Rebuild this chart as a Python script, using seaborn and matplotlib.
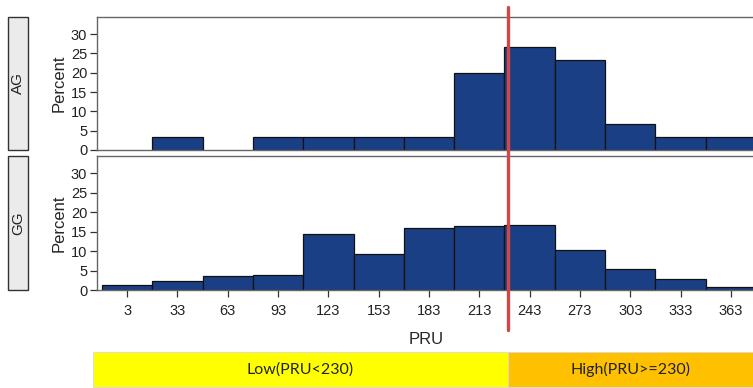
import pandas as pd
import matplotlib
matplotlib.use('Agg')
import matplotlib.pyplot as plt
import seaborn as sns
from matplotlib.patches import Rectangle
from matplotlib.lines import Line2D
from matplotlib.transforms import blended_transform_factory

# dados (percentual por classe de PRU)
pru_centros = [3, 33, 63, 93, 123, 153, 183, 213, 243, 273, 303, 333, 363]
pct_ag = [0, 3.33, 0, 3.33, 3.33, 3.33, 3.33, 20.0, 26.67, 23.33, 6.67, 3.33, 3.33]
pct_gg = [1.2, 2.4, 3.5, 3.75, 14.3, 9.3, 15.9, 16.5, 16.8, 10.2, 5.45, 2.7, 0.85]
grupos = ['AG', 'GG']
corte = 230
rotulos_faixa = ['Low(PRU<230)', 'High(PRU>=230)']

sns.set_theme(style='white')
plt.rcParams['font.family'] = ['Liberation Sans', 'DejaVu Sans']

fig = plt.figure(figsize=(7.53, 3.88), dpi=100)
ax1 = fig.add_axes([97/753, 1-150/388, 659/753, 133/388])
ax2 = fig.add_axes([97/753, 1-290/388, 659/753, 134/388])

cor_barra = '#1b3f84'

for ax, pct, nome in zip([ax1, ax2], [pct_ag, pct_gg], grupos):
    df = pd.DataFrame({'PRU': pru_centros, 'pct': pct})
    sns.histplot(data=df, x='PRU', weights='pct', binwidth=30, binrange=(-12, 378),
                 ax=ax, color=cor_barra, edgecolor='#111111', linewidth=0.9, alpha=1)
    # barras de altura zero não aparecem no original
    for p in ax.patches:
        if p.get_height() == 0:
            p.set_linewidth(0)
    ax.set_xlim(-15, 378)
    ax.set_ylim(0, 34.4)
    ax.set_yticks([0, 5, 10, 15, 20, 25, 30])
    ax.set_ylabel('Percent', fontsize=12, labelpad=3)
    ax.tick_params(axis='y', left=True, length=5, width=0.9, color='#333333',
                   labelsize=10.5, pad=2, labelcolor='#222222')
    for s in ax.spines.values():
        s.set_color('#666666')
        s.set_linewidth(1.0)
    # caixinha do painel (estilo lattice)
    pos = ax.get_position()
    fig.add_artist(Rectangle((8/753, pos.y0), 20/753, pos.height,
                             transform=fig.transFigure, facecolor='#ebebeb',
                             edgecolor='#333333', linewidth=1.0))
    fig.text(18/753, pos.y0 + pos.height/2, nome, rotation=90, ha='center',
             va='center', fontsize=11, color='#222222')

ax1.set_xlabel('')
ax1.set_xticks([])
ax2.set_xticks(pru_centros)
ax2.tick_params(axis='x', bottom=True, length=5, width=0.9, color='#333333',
                labelsize=10.5, pad=5, labelcolor='#222222')
ax2.set_xlabel('PRU', fontsize=12, labelpad=10)

# linha vermelha de corte
trans = blended_transform_factory(ax2.transData, fig.transFigure)
fig.add_artist(Line2D([corte, corte], [1-330/388, 1-7/388], transform=trans,
                      color='#d0474a', linewidth=2.4))

# faixas Low / High
y0, h = 1-387/388, 35/388
fig.add_artist(Rectangle((-17.5, y0), corte+17.5, h, transform=trans,
                         facecolor='#ffff00', edgecolor='#d9d9d9', linewidth=0.6))
fig.add_artist(Rectangle((corte, y0), 400-corte, h, transform=trans,
                         facecolor='#ffc000', edgecolor='#d9d9d9', linewidth=0.6))
fig.text((93+507)/2/753, y0 + h/2, rotulos_faixa[0], ha='center', va='center',
         fontsize=11.5, family=['Lato', 'DejaVu Sans'], color='#222222')
fig.text((507+753)/2/753, y0 + h/2, rotulos_faixa[1], ha='center', va='center',
         fontsize=11.5, family=['Lato', 'DejaVu Sans'], color='#222222')

fig.savefig('out.png', dpi=100)
